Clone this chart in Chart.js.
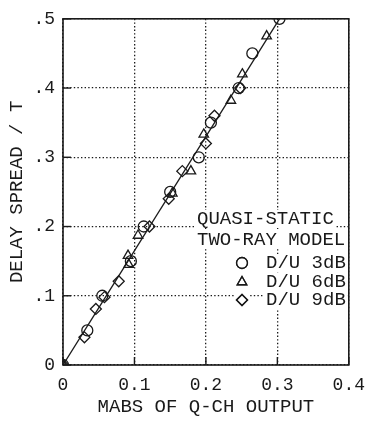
<!DOCTYPE html>
<html><head><meta charset="utf-8">
<script src="https://cdn.jsdelivr.net/npm/chart.js@4/dist/chart.umd.min.js"></script>
<style>html,body{margin:0;padding:0;background:#fff;}#wrap{width:374px;height:421px;}</style>
</head><body><div id="wrap"><canvas id="c" width="374" height="421"></canvas></div>
<script>
// ---- data ----
const xTicks = [0, 0.1, 0.2, 0.3, 0.4];
const xTickLabels = ["0", "0.1", "0.2", "0.3", "0.4"];
const yTicks = [0, 0.1, 0.2, 0.3, 0.4, 0.5];
const yTickLabels = ["0", ".1", ".2", ".3", ".4", ".5"];
const xTitle = "MABS OF Q-CH OUTPUT";
const yTitle = "DELAY SPREAD / T";
const legendTitle = ["QUASI-STATIC", "TWO-RAY MODEL"];
const seriesNames = ["D/U 3dB", "D/U 6dB", "D/U 9dB"];
const du3X = [0, 0.034, 0.055, 0.095, 0.113, 0.150, 0.190, 0.207, 0.246, 0.265, 0.303];
const du3Y = [0, 0.05, 0.10, 0.15, 0.20, 0.25, 0.30, 0.35, 0.40, 0.45, 0.50];
const du6X = [0, 0.092, 0.091, 0.105, 0.153, 0.179, 0.197, 0.235, 0.251, 0.285];
const du6Y = [0, 0.145, 0.158, 0.187, 0.248, 0.280, 0.333, 0.382, 0.420, 0.475];
const du9X = [0, 0.030, 0.046, 0.058, 0.078, 0.121, 0.148, 0.167, 0.200, 0.212, 0.248];
const du9Y = [0, 0.040, 0.081, 0.098, 0.121, 0.200, 0.240, 0.280, 0.320, 0.360, 0.400];
const modelX = [0, 0.303];
const modelY = [0, 0.50];

const INK = '#1a1a1a';
const FONT = '"Liberation Mono", "DejaVu Sans Mono", monospace';
const pts = (xs, ys) => xs.map((x, i) => ({x: x, y: ys[i]}));
const styles = ['circle', 'triangle', 'rectRot'];

const decor = {
  id: 'decor',
  afterDraw(chart) {
    const ctx = chart.ctx, a = chart.chartArea;
    const xs = chart.scales.x, ys = chart.scales.y;
    ctx.save();
    ctx.strokeStyle = INK; ctx.lineWidth = 1.6; ctx.setLineDash([]);
    ctx.strokeRect(a.left, a.top, a.right - a.left, a.bottom - a.top);
    ctx.lineWidth = 1.4;
    const tl = 8;
    xTicks.forEach(v => { const px = xs.getPixelForValue(v);
      ctx.beginPath(); ctx.moveTo(px, a.bottom); ctx.lineTo(px, a.bottom - tl); ctx.stroke(); });
    yTicks.forEach(v => { const py = ys.getPixelForValue(v);
      ctx.beginPath(); ctx.moveTo(a.left, py); ctx.lineTo(a.left + tl, py); ctx.stroke(); });
    // legend
    ctx.font = '19px ' + FONT;
    ctx.textBaseline = 'middle'; ctx.textAlign = 'left';
    const lines = [
      {t: legendTitle[0], x: 197, y: 219},
      {t: legendTitle[1], x: 197, y: 240},
      {t: seriesNames[0], x: 266, y: 263},
      {t: seriesNames[1], x: 266, y: 282},
      {t: seriesNames[2], x: 266, y: 300}
    ];
    lines.forEach(l => {
      const w = ctx.measureText(l.t).width;
      ctx.fillStyle = '#fff'; ctx.fillRect(l.x - 2, l.y - 9, w + 4, 18);
    });
    ctx.fillStyle = INK;
    lines.forEach(l => ctx.fillText(l.t, l.x, l.y));
    const my = [263, 282, 300];
    styles.forEach((s, i) => {
      ctx.fillStyle = '#fff'; ctx.fillRect(235, my[i] - 7, 14, 14);
      ctx.strokeStyle = INK; ctx.lineWidth = 1.3;
      Chart.helpers.drawPoint(ctx, {pointStyle: s, radius: 5.5, borderWidth: 1.3}, 242, my[i]);
      ctx.stroke();
    });
    ctx.restore();
  }
};

const mk = (label, data, style) => ({
  type: 'scatter', label: label, data: data, pointStyle: style, pointRadius: 5.5,
  pointBorderWidth: 1.3, borderColor: INK, backgroundColor: 'rgba(0,0,0,0)', showLine: false
});

new Chart(document.getElementById('c'), {
  type: 'scatter',
  data: { datasets: [
    { type: 'line', label: 'model', data: pts(modelX, modelY), borderColor: INK, borderWidth: 1.3,
      pointRadius: 0, fill: false, tension: 0 },
    mk(seriesNames[0], pts(du3X, du3Y), 'circle'),
    mk(seriesNames[1], pts(du6X, du6Y), 'triangle'),
    mk(seriesNames[2], pts(du9X, du9Y), 'rectRot')
  ]},
  options: {
    responsive: false, animation: false, devicePixelRatio: 1,
    layout: { padding: { left: 0, right: 18, top: 13, bottom: 0 } },
    plugins: { legend: { display: false }, tooltip: { enabled: false } },
    scales: {
      x: {
        type: 'linear', min: 0, max: 0.4,
        afterBuildTicks: s => { s.ticks = xTicks.map(v => ({value: v})); },
        afterFit: s => { s.height = 56; },
        ticks: { color: INK, font: { family: FONT, size: 18 }, padding: 9, maxRotation: 0,
          callback: (v) => { const i = xTicks.indexOf(v); return i >= 0 ? xTickLabels[i] : ''; } },
        grid: { color: INK, lineWidth: 1.3, drawTicks: false },
        border: { display: false, dash: [1.4, 2.2] },
        title: { display: true, text: xTitle, color: INK, font: { family: FONT, size: 19 }, padding: { top: 0, bottom: 3 } }
      },
      y: {
        type: 'linear', min: 0, max: 0.5,
        afterBuildTicks: s => { s.ticks = yTicks.map(v => ({value: v})); },
        afterFit: s => { s.width = 63; },
        ticks: { color: INK, font: { family: FONT, size: 18 }, padding: 8,
          callback: (v) => { const i = yTicks.indexOf(v); return i >= 0 ? yTickLabels[i] : ''; } },
        grid: { color: INK, lineWidth: 1.3, drawTicks: false },
        border: { display: false, dash: [1.4, 2.2] },
        title: { display: true, text: yTitle, color: INK, font: { family: FONT, size: 19 }, padding: { top: 6, bottom: 0 } }
      }
    }
  },
  plugins: [decor]
});
</script></body></html>
